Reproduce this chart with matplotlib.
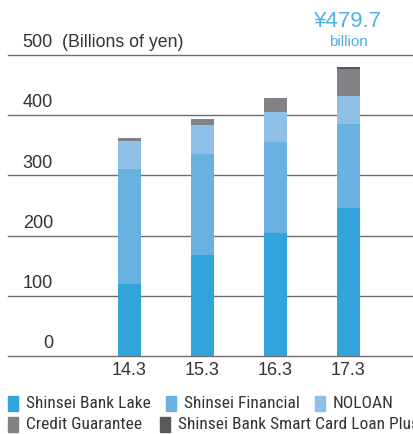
import numpy as np
import matplotlib
matplotlib.use("Agg")
import matplotlib.pyplot as plt
from matplotlib.patches import Rectangle
from matplotlib import font_manager as fm

# data (billions of yen)
years = ["14.3", "15.3", "16.3", "17.3"]
lake = [120, 168, 204, 246]
financial = [191, 168, 151, 140]
noloan = [46, 48, 50, 46]
credit = [5, 10, 23, 45]
smart = [0, 0, 0, 3]

series = [lake, financial, noloan, credit, smart]
names = ["Shinsei Bank Lake", "Shinsei Financial", "NOLOAN",
         "Credit Guarantee", "Shinsei Bank Smart Card Loan Plus"]
colors = ["#33a3dc", "#69b1e1", "#8fc0e8", "#808285", "#58595b"]
yticks = [0, 100, 200, 300, 400, 500]

# look for a narrow face for the legend
narrow = None
for fam, st in [("Liberation Sans Narrow", "normal"), ("Roboto Condensed", "normal"),
                ("DejaVu Sans", "condensed"), ("Roboto", "condensed")]:
    fp = fm.FontProperties(family=fam, stretch=st)
    try:
        path = fm.findfont(fp, fallback_to_default=False)
    except Exception:
        continue
    if "ondensed" in path or "Narrow" in path:
        narrow = fm.FontProperties(fname=path, size=12.5)
        break
if narrow is None:
    narrow = fm.FontProperties(family="Liberation Sans", size=10.8)

W, H = 413, 435
fig = plt.figure(figsize=(W / 100, H / 100), dpi=100)
ax = fig.add_axes([8 / W, (H - 357) / H, (W - 8) / W, 301 / H])
x0 = -1.664
ax.set_xlim(x0, 3.884)
ax.set_ylim(0, 500)
ax.axis("off")

# gridlines and y labels
for t in yticks:
    ax.axhline(t, color="#6d6e71", lw=1.0, zorder=1, clip_on=False)
    ax.text(x0 + (53 - 8) / 73, t + 8, str(t), ha="right", va="bottom",
            fontsize=13, family="Liberation Sans", color="#333333")
ax.text(x0 + (62 - 8) / 73, 508, "(Billions of yen)", ha="left", va="bottom",
        fontsize=12.8, family="Liberation Sans", color="#333333")

x = np.arange(len(years))
bottom = np.zeros(len(years))
for vals, c in zip(series, colors):
    ax.bar(x, vals, width=0.315, bottom=bottom, color=c, zorder=2)
    bottom += np.array(vals)

for i, lab in enumerate(years):
    ax.text(x[i], -22, lab, ha="center", va="center", fontsize=13,
            family="Liberation Sans", color="#333333")

# total annotation
ax.text(x[-1], 557, "¥479.7", ha="center", va="center", fontsize=16,
        family="Liberation Sans", color="#4db1e8", clip_on=False)
ax.text(x[-1], 524, "billion", ha="center", va="center", fontsize=11,
        family="Liberation Sans", color="#4db1e8", clip_on=False)

# legend drawn by hand
leg_pos = [(8, 404), (166, 404), (315, 404), (8, 425), (160, 425)]
for (px, py), name, c in zip(leg_pos, names, colors):
    fig.patches.append(Rectangle((px / W, (H - py - 7.5) / H), 10 / W, 15 / H,
                                 transform=fig.transFigure, color=c))
    fig.text((px + 18) / W, (H - py) / H, name, ha="left", va="center",
             fontproperties=narrow, color="#333333")

fig.savefig("out.png", dpi=100)
